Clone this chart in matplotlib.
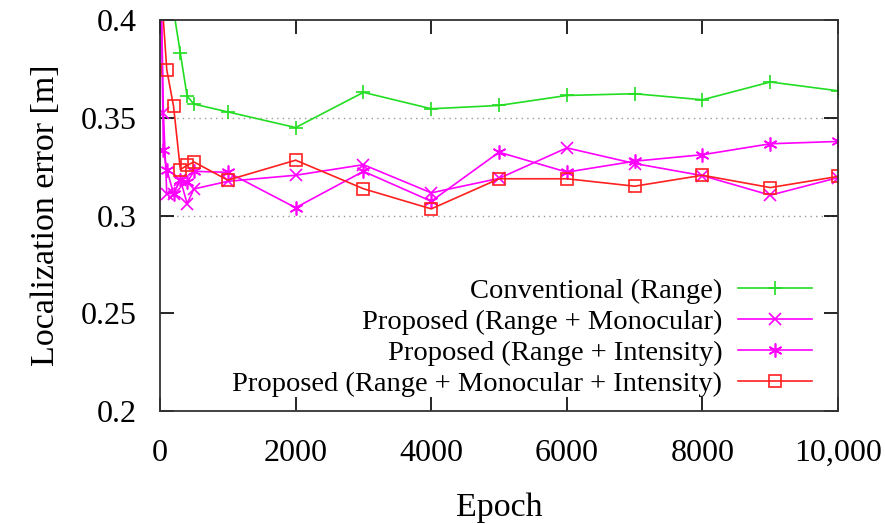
import numpy as np
import matplotlib
matplotlib.use("Agg")
import matplotlib.pyplot as plt

plt.rcParams['font.family'] = ['Liberation Serif', 'DejaVu Serif']

# Data
epochs = [0, 100, 200, 300, 400, 500, 1000, 2000, 3000, 4000, 5000,
          6000, 7000, 8000, 9000, 10000]
conventional = [0.60, 0.50, 0.405, 0.383, 0.361, 0.357, 0.353, 0.345, 0.363,
                0.3546, 0.3563, 0.3614, 0.3623, 0.3592, 0.3683, 0.3638]
full = [0.425, 0.3745, 0.3558, 0.3235, 0.3257, 0.3274, 0.3181, 0.3283, 0.3137,
        0.3034, 0.3188, 0.3188, 0.3150, 0.3206, 0.3143, 0.3200]

epochs_m = [0, 50, 100, 200, 300, 400, 500, 1000, 2000, 3000, 4000, 5000,
            6000, 7000, 8000, 9000, 10000]
monocular = [0.45, 0.3524, 0.3112, 0.3112, 0.3184, 0.3061, 0.3136, 0.3175,
             0.3206, 0.326, 0.3116, 0.319, 0.3346, 0.3266, 0.3204, 0.3104,
             0.3194]
intensity = [0.45, 0.3333, 0.3235, 0.3112, 0.3184, 0.317, 0.3226, 0.3221,
             0.304, 0.3226, 0.3073, 0.3324, 0.3222, 0.3278, 0.3311, 0.3367,
             0.3379]

labels = ["Conventional (Range)", "Proposed (Range + Monocular)",
          "Proposed (Range + Intensity)",
          "Proposed (Range + Monocular + Intensity)"]

fig = plt.figure(figsize=(8.85, 5.24), dpi=100)
ax = fig.add_axes([0.1808, 0.2156, 0.7662, 0.7462])

ax.plot(epochs, conventional, color='#22dd22', lw=1.2, marker='+', ms=10,
        mew=1.2, label=labels[0])
ax.plot(epochs_m, monocular, color='#ff00ff', lw=1.2, marker='x', ms=8,
        mew=1.2, label=labels[1])
ax.plot(epochs_m, intensity, color='#ff00ff', lw=1.2, marker=(6, 2, 0), ms=10,
        mew=1.2, label=labels[2])
ax.plot(epochs, full, color='#ff2020', lw=1.2, marker='s', ms=8, mfc='none',
        mew=1.2, label=labels[3])

ax.set_xlim(0, 10000)
ax.set_ylim(0.2, 0.4)
ax.set_xticks([0, 2000, 4000, 6000, 8000, 10000])
ax.set_xticklabels(['0', '2000', '4000', '6000', '8000', '10,000'])
ax.set_yticks([0.2, 0.25, 0.3, 0.35, 0.4])
ax.set_yticklabels(['0.2', '0.25', '0.3', '0.35', '0.4'])
ax.tick_params(direction='in', length=10, width=1.2, labelsize=23,
               top=True, right=True)
ax.tick_params(axis='x', pad=20)
ax.tick_params(axis='y', pad=17)

# dotted grid only where gnuplot shows it
ax.yaxis.grid(True, linestyle=(0, (1, 3)), color='#999999', lw=1)
for val, gl in zip(ax.get_yticks(), ax.get_ygridlines()):
    if not (0.29 < val < 0.36):
        gl.set_visible(False)

for sp in ax.spines.values():
    sp.set_linewidth(1.3)
    sp.set_color('#333333')

ax.set_xlabel("Epoch", fontsize=24.5, labelpad=18)
ax.set_ylabel("Localization error [m]", fontsize=24.5, labelpad=14)

ax.legend(loc='lower right', bbox_to_anchor=(0.9617, 0.036), frameon=False,
          markerfirst=False, fontsize=20.5, handlelength=2.6,
          labelspacing=0.18, handletextpad=0.56, borderaxespad=0,
          borderpad=0)

fig.savefig("out.png", dpi=100)
